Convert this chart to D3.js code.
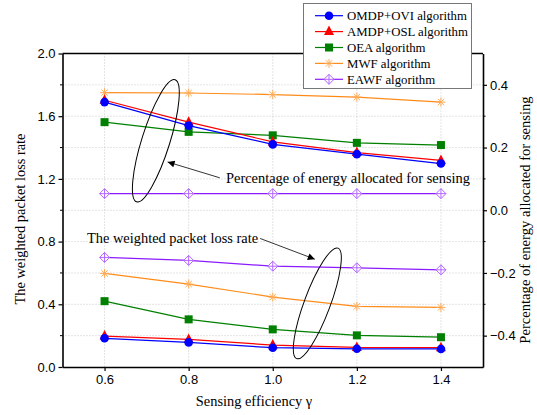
<!DOCTYPE html>
<html><head><meta charset="utf-8">
<script src="https://cdn.jsdelivr.net/npm/d3@7"></script>
<style>body{margin:0;background:#fff}</style>
</head><body>
<svg id="c" width="537" height="415"></svg>
<script>
// ---- data ----
const gamma = [0.6, 0.8, 1.0, 1.2, 1.4];
const seriesNames = ["OMDP+OVI algorithm","AMDP+OSL algorithm","OEA algorithm","MWF algorithm","EAWF algorithm"];
// weighted packet loss rate (left axis)
const lossOMDP = [0.183, 0.157, 0.123, 0.116, 0.115];
const lossAMDP = [0.197, 0.176, 0.140, 0.125, 0.123];
const lossOEA  = [0.420, 0.304, 0.240, 0.202, 0.190];
const lossMWF  = [0.597, 0.529, 0.446, 0.387, 0.380];
const lossEAWF = [0.699, 0.680, 0.643, 0.633, 0.620];
// percentage of energy allocated for sensing (right axis)
const energyOMDP = [0.345, 0.270, 0.210, 0.179, 0.149];
const energyAMDP = [0.351, 0.281, 0.218, 0.184, 0.159];
const energyOEA  = [0.281, 0.250, 0.239, 0.215, 0.208];
const energyMWF  = [0.375, 0.374, 0.369, 0.361, 0.345];
const energyEAWF = [0.053, 0.053, 0.053, 0.053, 0.053];
const leftTicks = [0.0, 0.4, 0.8, 1.2, 1.6, 2.0];
const rightTicks = [-0.4, -0.2, 0.0, 0.2, 0.4];

const colors = ["#0000ff","#ff0000","#008000","#ff8c1a","#8c1aff"];
const markerColors = ["#0000ff","#ff0000","#008000","#ffaa55","#b266ff"];
const shapes = ["circle","triangle","square","star","diamond"];
const lossAll = [lossOMDP, lossAMDP, lossOEA, lossMWF, lossEAWF];
const energyAll = [energyOMDP, energyAMDP, energyOEA, energyMWF, energyEAWF];

// ---- layout ----
const L = 62.5, R = 483, T = 53.5, B = 367;
const svg = d3.select("#c");
const x = d3.scaleLinear().domain([0.5, 1.5]).range([L, R]);
const yL = d3.scaleLinear().domain([0, 2]).range([B, T]);
const yR = d3.scaleLinear().domain([-0.5, 0.5]).range([B, T]);
const sans = "'Liberation Sans', Arial, sans-serif";
const serif = "'Liberation Serif', 'Times New Roman', serif";

// grid
const g = svg.append("g");
g.selectAll("line.v").data(gamma).enter().append("line")
  .attr("x1", d => x(d)).attr("x2", d => x(d)).attr("y1", T).attr("y2", B)
  .attr("stroke", "#c8c8c8").attr("stroke-dasharray", "1,2").attr("stroke-width", 1);
g.selectAll("line.h").data(d3.range(0.2, 2.0, 0.2)).enter().append("line")
  .attr("x1", L).attr("x2", R).attr("y1", d => yL(d)).attr("y2", d => yL(d))
  .attr("stroke", "#c8c8c8").attr("stroke-dasharray", "1,2").attr("stroke-width", 1);

// axes
const axB = d3.axisBottom(x).tickValues(gamma).tickFormat(d3.format(".1f")).tickSizeInner(4).tickSizeOuter(0).tickPadding(4);
const axL = d3.axisLeft(yL).tickValues(leftTicks).tickFormat(d3.format(".1f")).tickSizeInner(4).tickSizeOuter(0).tickPadding(3);
const axR = d3.axisRight(yR).tickValues(rightTicks).tickFormat(d3.format(".1f")).tickSizeInner(4).tickSizeOuter(0).tickPadding(3);
function styleAxis(sel){
  sel.select(".domain").attr("stroke","#000").attr("stroke-width",1.6);
  sel.selectAll(".tick line").attr("stroke","#000").attr("stroke-width",1.2);
  sel.selectAll(".tick text").attr("font-family", sans).attr("font-size", 13).attr("fill","#000");
}
styleAxis(svg.append("g").attr("transform", `translate(0,${B})`).call(axB));
styleAxis(svg.append("g").attr("transform", `translate(${L},0)`).call(axL));
styleAxis(svg.append("g").attr("transform", `translate(${R},0)`).call(axR));
// minor ticks
svg.append("g").selectAll("line").data([0.2,0.6,1.0,1.4,1.8]).enter().append("line")
  .attr("x1", L-2.5).attr("x2", L).attr("y1", d=>yL(d)).attr("y2", d=>yL(d)).attr("stroke","#000").attr("stroke-width",1);
svg.append("g").selectAll("line").data([-0.3,-0.1,0.1,0.3]).enter().append("line")
  .attr("x1", R).attr("x2", R+2.5).attr("y1", d=>yR(d)).attr("y2", d=>yR(d)).attr("stroke","#000").attr("stroke-width",1);
// top frame
svg.append("line").attr("x1", L).attr("x2", R).attr("y1", T).attr("y2", T).attr("stroke","#000").attr("stroke-width",1.6);

// markers
function drawMarker(sel, shape, cx, cy, col){
  if (shape === "circle") sel.append("circle").attr("cx",cx).attr("cy",cy).attr("r",4.3).attr("fill",col);
  else if (shape === "triangle") sel.append("path").attr("d",`M${cx},${cy-6}L${cx+5},${cy+3.5}L${cx-5},${cy+3.5}Z`).attr("fill",col);
  else if (shape === "square") sel.append("rect").attr("x",cx-4).attr("y",cy-4).attr("width",8).attr("height",8).attr("fill",col);
  else if (shape === "star") {
    const r = 4.5, d = 3.2;
    sel.append("path").attr("d",`M${cx-r},${cy}L${cx+r},${cy}M${cx-d},${cy-d}L${cx+d},${cy+d}M${cx-d},${cy+d}L${cx+d},${cy-d}M${cx},${cy-r}L${cx},${cy+r}`)
      .attr("stroke",col).attr("stroke-width",1).attr("fill","none");
  } else if (shape === "diamond") {
    const r = 5;
    sel.append("path").attr("d",`M${cx},${cy-r}L${cx+r},${cy}L${cx},${cy+r}L${cx-r},${cy}ZM${cx-r},${cy}L${cx+r},${cy}M${cx},${cy-r}L${cx},${cy+r}`)
      .attr("stroke",col).attr("stroke-width",1).attr("fill","#fff");
  }
}

function drawSeries(vals, yScale, i){
  const line = d3.line().x((d,j)=>x(gamma[j])).y(d=>yScale(d));
  const gg = svg.append("g");
  gg.append("path").attr("d", line(vals)).attr("fill","none").attr("stroke",colors[i]).attr("stroke-width",1.2);
  vals.forEach((v,j)=> drawMarker(gg, shapes[i], x(gamma[j]), yScale(v), markerColors[i]));
}
[4,3,2,1,0].forEach(i => drawSeries(energyAll[i], yR, i));
[4,3,2,1,0].forEach(i => drawSeries(lossAll[i], yL, i));

// annotations: ellipses + arrows
svg.append("defs").append("marker").attr("id","ah").attr("viewBox","0 0 10 10").attr("refX",10).attr("refY",5)
  .attr("markerWidth",9).attr("markerHeight",7).attr("markerUnits","userSpaceOnUse").attr("orient","auto")
  .append("path").attr("d","M0,0L10,5L0,10Z").attr("fill","#000");
function ellipse(cxv, cyv, rx, ry, rot){
  svg.append("ellipse").attr("cx",0).attr("cy",0).attr("rx",rx).attr("ry",ry)
    .attr("transform",`translate(${x(cxv)},${yL(cyv)}) rotate(${rot})`)
    .attr("fill","none").attr("stroke","#000").attr("stroke-width",1);
}
ellipse(0.722, 1.443, 14, 64, 17.5);
ellipse(1.106, 0.406, 13, 59, 20.5);
function arrow(x1,y1,x2,y2){
  svg.append("line").attr("x1",x(x1)).attr("y1",yL(y1)).attr("x2",x(x2)).attr("y2",yL(y2))
    .attr("stroke","#000").attr("stroke-width",0.8).attr("marker-end","url(#ah)");
}
arrow(0.874, 1.207, 0.750, 1.308);
arrow(0.970, 0.820, 1.100, 0.688);
svg.append("text").attr("x",226).attr("y",183).attr("font-family",serif).attr("font-size",14.4).text("Percentage of energy allocated for sensing");
svg.append("text").attr("x",87).attr("y",243).attr("font-family",serif).attr("font-size",14.4).text("The weighted packet loss rate");

// axis titles
svg.append("text").attr("x",254).attr("y",406).attr("text-anchor","middle").attr("font-family",serif).attr("font-size",14.4).text("Sensing efficiency γ");
svg.append("text").attr("transform","translate(25,219) rotate(-90)").attr("text-anchor","middle").attr("font-family",serif).attr("font-size",14.4).text("The weighted packet loss rate");
svg.append("text").attr("transform","translate(530,220) rotate(-90)").attr("text-anchor","middle").attr("font-family",serif).attr("font-size",14.6).text("Percentage of energy allocated for sensing");

// legend
const lg = svg.append("g");
lg.append("rect").attr("x",303.5).attr("y",3.5).attr("width",168).attr("height",85).attr("fill","#fff").attr("stroke","#777").attr("stroke-width",1);
seriesNames.forEach((n,i)=>{
  const yy = 15.7 + i*15.9;
  lg.append("line").attr("x1",315).attr("x2",343).attr("y1",yy).attr("y2",yy).attr("stroke",colors[i]).attr("stroke-width",1.2);
  drawMarker(lg, shapes[i], 329, yy, markerColors[i]);
  lg.append("text").attr("x",347).attr("y",yy+4.5).attr("font-family",serif).attr("font-size",12.8).text(n);
});
</script>
</body></html>
